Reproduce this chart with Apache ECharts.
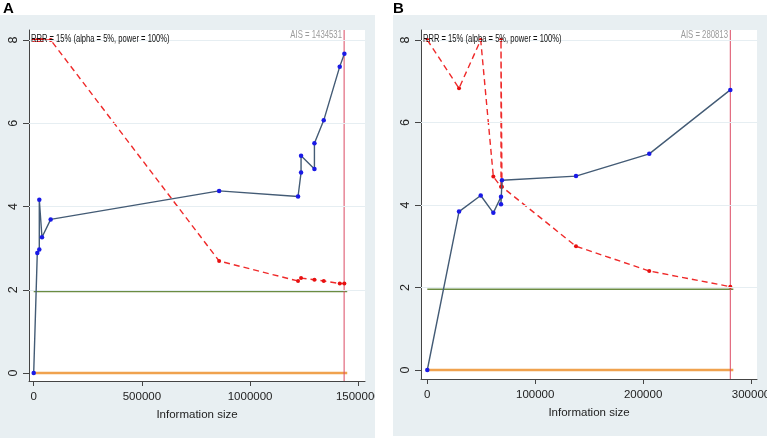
<!DOCTYPE html>
<html><head><meta charset="utf-8">
<script src="https://cdn.jsdelivr.net/npm/echarts@6/dist/echarts.min.js"></script>
<style>
html,body{margin:0;padding:0;background:#fff;width:767px;height:440px;overflow:hidden;}
#a{position:absolute;left:0;top:0;width:375px;height:440px;}
#b{position:absolute;left:393px;top:0;width:374px;height:440px;}
</style></head>
<body><div id="a"></div><div id="b"></div>
<script>
// ---------- Data: panel A ----------
const panelA_label = 'A';
const A_ais = 1434531;
const A_zX = [0, 16600, 25900, 25900, 38300, 78500, 857000, 1221600, 1235500, 1235500, 1297300, 1297300, 1340300, 1414200, 1435700];
const A_zY = [0, 2.88, 2.97, 4.16, 3.26, 3.69, 4.375, 4.24, 4.815, 5.22, 4.90, 5.52, 6.07, 7.36, 7.67];
const A_bX = [0, 16600, 25900, 38300, 78500, 857000, 1221600, 1235500, 1297300, 1340300, 1414200, 1435700];
const A_bY = [8, 8, 8, 8, 8, 2.69, 2.21, 2.28, 2.24, 2.21, 2.15, 2.15];
const A_xTicks = [0, 500000, 1000000, 1500000];
const A_xRange = [-21700, 1531000];
const A_yRange = [-0.192, 8.24];

// ---------- Data: panel B ----------
const panelB_label = 'B';
const B_ais = 280813;
const B_zX = [0, 29400, 49500, 61200, 68300, 68300, 69200, 137800, 205700, 280813];
const B_zY = [0, 3.84, 4.23, 3.81, 4.20, 4.02, 4.60, 4.70, 5.24, 6.79];
const B_bX = [0, 29400, 49500, 61200, 68300, 68300, 69200, 137800, 205700, 280813];
const B_bY = [8, 6.83, 8, 4.69, 4.44, 8, 4.44, 3.00, 2.40, 2.02];
const B_xTicks = [0, 100000, 200000, 300000];
const B_xRange = [-5840, 305560];
const B_yRange = [-0.218, 8.242];

// ---------- Shared ----------
const yTicks = [0, 2, 4, 6, 8];
const gridVals = [2, 4, 6, 8];
const zCrit = 1.96;
const lineExtendFactor = 1.01;
const topNote = 'RRR = 15% (alpha = 5%, power = 100%)';
const xTitle = 'Information size';

const FONT = '"Liberation Sans",Arial,sans-serif';

function zip(xs, ys){ return xs.map((x,i)=>[x, ys[i]]); }

function build(cfg){
  const aisEnd = cfg.ais * lineExtendFactor;
  return {
    animation:false,
    graphic:[
      {type:'rect', shape:{x:0,y:15,width:cfg.bgW,height:cfg.bgH}, style:{fill:'#e8eff2'}, z:-10},
      {type:'text', left:cfg.labelX, top:1, style:{text:cfg.label, font:'bold 15px '+FONT, fill:'#000'}},
      {type:'text', x:cfg.grid.left+2, y:33, scaleX:0.66, style:{x:0, y:0, text:topNote, font:'11.5px '+FONT, fill:'#111', textAlign:'left', textVerticalAlign:'top'}, z:100},
      {type:'text', x:cfg.aisTextX, y:30, scaleX:0.74, style:{x:0, y:0, text:'AIS = '+cfg.ais, font:'10.5px '+FONT, fill:'#9a9a9a', textAlign:'right', textVerticalAlign:'top'}, z:100}
    ],
    grid:{left:cfg.grid.left, top:cfg.grid.top, width:cfg.grid.width, height:cfg.grid.height,
          show:true, backgroundColor:'#ffffff', borderWidth:0, containLabel:false, outerBoundsMode:'none'},
    xAxis:{type:'value', min:cfg.xRange[0], max:cfg.xRange[1],
      name:xTitle, nameLocation:'middle', nameGap:28,
      nameTextStyle:{fontFamily:FONT, fontSize:11.5, color:'#222'},
      axisLine:{show:true, onZero:false, lineStyle:{color:'#444', width:1}},
      axisTick:{show:true, length:5, customValues:cfg.xTicks, lineStyle:{color:'#444'}},
      axisLabel:{customValues:cfg.xTicks, margin:10, fontFamily:FONT, fontSize:11.5, color:'#222',
        formatter:function(v){ return String(Math.round(v)); }},
      splitLine:{show:false}},
    yAxis:{type:'value', min:cfg.yRange[0], max:cfg.yRange[1],
      axisLine:{show:true, onZero:false, lineStyle:{color:'#444', width:1}},
      axisTick:{show:true, length:6, customValues:yTicks, lineStyle:{color:'#444'}},
      axisLabel:{customValues:yTicks, rotate:90, margin:9, fontFamily:FONT, fontSize:12.5, color:'#222'},
      splitLine:{show:false}},
    series:[
      {type:'line', data:[], silent:true,
        markLine:{silent:true, symbol:['none','none'], label:{show:false},
          lineStyle:{color:'#e6eef2', width:1, type:'solid'},
          data:gridVals.map(v=>({yAxis:v}))}, z:1},
      {type:'line', data:[[0,0],[aisEnd,0]], symbol:'none', lineStyle:{color:'#f0a24e', width:2.5}, z:2},
      {type:'line', data:[[0,zCrit],[aisEnd,zCrit]], symbol:'none', lineStyle:{color:'#6b8c42', width:1.5}, z:2},
      {type:'line', data:[[cfg.ais,cfg.yRange[0]],[cfg.ais,cfg.yRange[1]]], symbol:'none', silent:true,
        lineStyle:{color:'#dc4a63', width:1}, itemStyle:{color:'#dc4a63'}, z:3},
      {type:'line', data:zip(cfg.bX, cfg.bY), symbol:'circle', symbolSize:4,
        itemStyle:{color:'#e81010'}, lineStyle:{color:'#ef2a2a', width:1.4, type:[6,4]}, z:4},
      {type:'line', data:zip(cfg.zX, cfg.zY), symbol:'circle', symbolSize:4.5,
        itemStyle:{color:'#1a1ae6'}, lineStyle:{color:'#435b75', width:1.4}, z:5}
    ]
  };
}

const chartA = echarts.init(document.getElementById('a'), null, {renderer:'canvas'});
chartA.setOption(build({
  label:panelA_label, labelX:3, bgW:375, bgH:423, ais:A_ais, aisTextX:342,
  grid:{left:29, top:30, width:336, height:351},
  xRange:A_xRange, yRange:A_yRange, xTicks:A_xTicks,
  zX:A_zX, zY:A_zY, bX:A_bX, bY:A_bY
}));
const chartB = echarts.init(document.getElementById('b'), null, {renderer:'canvas'});
chartB.setOption(build({
  label:panelB_label, labelX:0, bgW:374, bgH:421, ais:B_ais, aisTextX:335,
  grid:{left:28, top:30, width:336, height:349},
  xRange:B_xRange, yRange:B_yRange, xTicks:B_xTicks,
  zX:B_zX, zY:B_zY, bX:B_bX, bY:B_bY
}));
</script>
</body></html>
